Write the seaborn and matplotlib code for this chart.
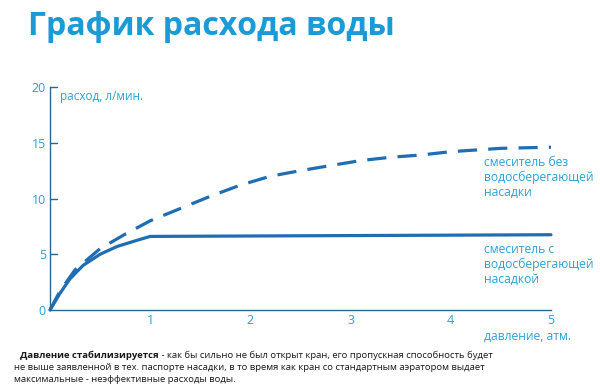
import matplotlib
matplotlib.use("Agg")
import matplotlib.pyplot as plt
import seaborn as sns
import pandas as pd

# ---- data ----
x_without = [0, 0.1, 0.25, 0.5, 0.75, 1.0, 1.3, 1.6, 1.9, 2.2, 2.5, 2.83, 3.1, 3.4, 3.7, 4.0, 4.5, 5.0]
y_without = [0, 1.7, 3.6, 5.5, 6.8, 8.0, 9.1, 10.2, 11.2, 12.0, 12.5, 13.0, 13.4, 13.7, 13.9, 14.2, 14.5, 14.6]
x_with = [0, 0.1, 0.2, 0.33, 0.5, 0.67, 0.85, 1.0, 5.0]
y_with = [0, 1.5, 2.8, 4.0, 5.0, 5.7, 6.2, 6.6, 6.75]
y_ticks = [0, 5, 10, 15, 20]
x_ticks = [1, 2, 3, 4, 5]
title = "График расхода воды"
label_without = "смеситель без\nводосберегающей\nнасадки"
label_with = "смеситель с\nводосберегающей\nнасадкой"
y_label = "расход, л/мин."
x_label = "давление, атм."
note_bold = "Давление стабилизируется"
note_rest = (" - как бы сильно не был открыт кран, его пропускная способность будет",
             "не выше заявленной в тех. паспорте насадки, в то время как кран со стандартным аэратором выдает",
             "максимальные - неэффективные расходы воды.")

df_without = pd.DataFrame({"x": x_without, "y": y_without})
df_with = pd.DataFrame({"x": x_with, "y": y_with})

sns.set_style("white")
plt.rcParams["font.family"] = ["Open Sans", "DejaVu Sans"]

LINE = "#1f6db3"
AXIS = "#2d6591"
LIGHT = "#2aa2d6"
TITLE = "#1a9bd7"

fig = plt.figure(figsize=(6, 3.92), dpi=100)
ax = fig.add_axes([50 / 600, 82 / 392, 501 / 600, 223 / 392])

sns.lineplot(data=df_with, x="x", y="y", ax=ax, color=LINE, linewidth=2.3,
             sort=False, estimator=None)
sns.lineplot(data=df_without, x="x", y="y", ax=ax, color=LINE, linewidth=2.3,
             sort=False, estimator=None, dashes=False)
ax.lines[1].set_linestyle((0, (6, 3.5)))
for ln in ax.lines:
    ln.set_clip_on(False)

ax.set_xlim(0, 5)
ax.set_ylim(0, 20)
ax.set_xticks(x_ticks)
ax.set_yticks(y_ticks)
ax.set_xlabel("")
ax.set_ylabel("")
for s in ["top", "right"]:
    ax.spines[s].set_visible(False)
for s in ["left", "bottom"]:
    ax.spines[s].set_color(AXIS)
    ax.spines[s].set_linewidth(1.0)
ax.tick_params(axis="y", direction="in", length=6, width=1, color=AXIS,
               labelcolor=LIGHT, labelsize=9, pad=3)
ax.tick_params(axis="x", direction="in", length=4, width=1, color=AXIS,
               labelcolor=LIGHT, labelsize=9, pad=3)
ax.tick_params(axis="y", which="major", left=False, right=False)
# draw y ticks to the right of the spine
for t in y_ticks[1:]:
    ax.plot([0, 0.07], [t, t], color=AXIS, lw=1, clip_on=False)

ax.text(0.1, 19.7, y_label, color=LIGHT, fontsize=8.5, va="top", ha="left")
ax.text(4.33, 6.0, label_with, color=LIGHT, fontsize=8.7, va="top", ha="left",
        linespacing=1.15)
ax.text(4.33, 13.8, label_without, color=LIGHT, fontsize=8.7, va="top", ha="left",
        linespacing=1.15)
ax.text(4.33, -1.8, x_label, color=LIGHT, fontsize=8.7, va="top", ha="left")

fig.text(28 / 600, 1 - 10 / 392, title, color=TITLE, fontsize=23, fontweight="bold",
         va="top", ha="left")

# bottom note
FS = 6.8
y0 = 1 - 355 / 392
tb = fig.text(20 / 600, y0, note_bold, fontsize=FS, fontweight="bold", color="#1a1a1a",
              va="center", ha="left")
fig.canvas.draw()
bb = tb.get_window_extent()
fig.text(bb.x1 / 600, y0, note_rest[0], fontsize=FS, color="#1a1a1a", va="center", ha="left")
fig.text(14 / 600, 1 - 367 / 392, note_rest[1], fontsize=FS, color="#1a1a1a", va="center", ha="left")
fig.text(14 / 600, 1 - 380 / 392, note_rest[2], fontsize=FS, color="#1a1a1a", va="center", ha="left")

fig.savefig("out.png", dpi=100)
